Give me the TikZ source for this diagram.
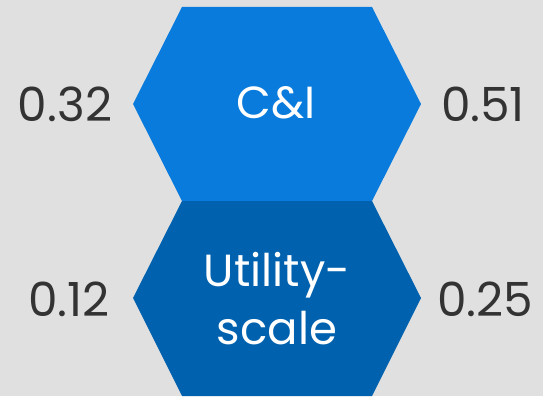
\documentclass[tikz,border=0pt]{standalone}
\usepackage{fontspec}
\setmainfont{Poppins}
\definecolor{bg}{HTML}{E0E0E0}
\definecolor{topblue}{HTML}{087BDC}
\definecolor{botblue}{HTML}{0062AF}
\definecolor{txt}{HTML}{333333}
\begin{document}
\begin{tikzpicture}[x=1pt,y=-1pt,
  val/.style={text=txt,font=\fontsize{47}{52}\selectfont,inner sep=0pt,anchor=center},
  lab/.style={text=white,font=\fontsize{45}{58}\selectfont,inner sep=0pt,align=center,anchor=center}]
\fill[bg] (0,0) rectangle (543,396);
\useasboundingbox (0,0) rectangle (543,396);
\fill[topblue] (182,7) -- (372,7) -- (421,104) -- (372,201) -- (182,201) -- (133,104) -- cycle;
\fill[botblue] (182,201) -- (372,201) -- (421,298) -- (372,396) -- (182,396) -- (133,298) -- cycle;
\node[lab] (ci) at (276,103) {C\&I};
\node[lab] (us) at (277,299) {Utility-\\scale};
\node[val] (a) at (65,104) {0.32};
\node[val] (b) at (483,104) {0.51};
\node[val] (c) at (69,299) {0.12};
\node[val] (d) at (485,299) {0.25};
\end{tikzpicture}
\end{document}
